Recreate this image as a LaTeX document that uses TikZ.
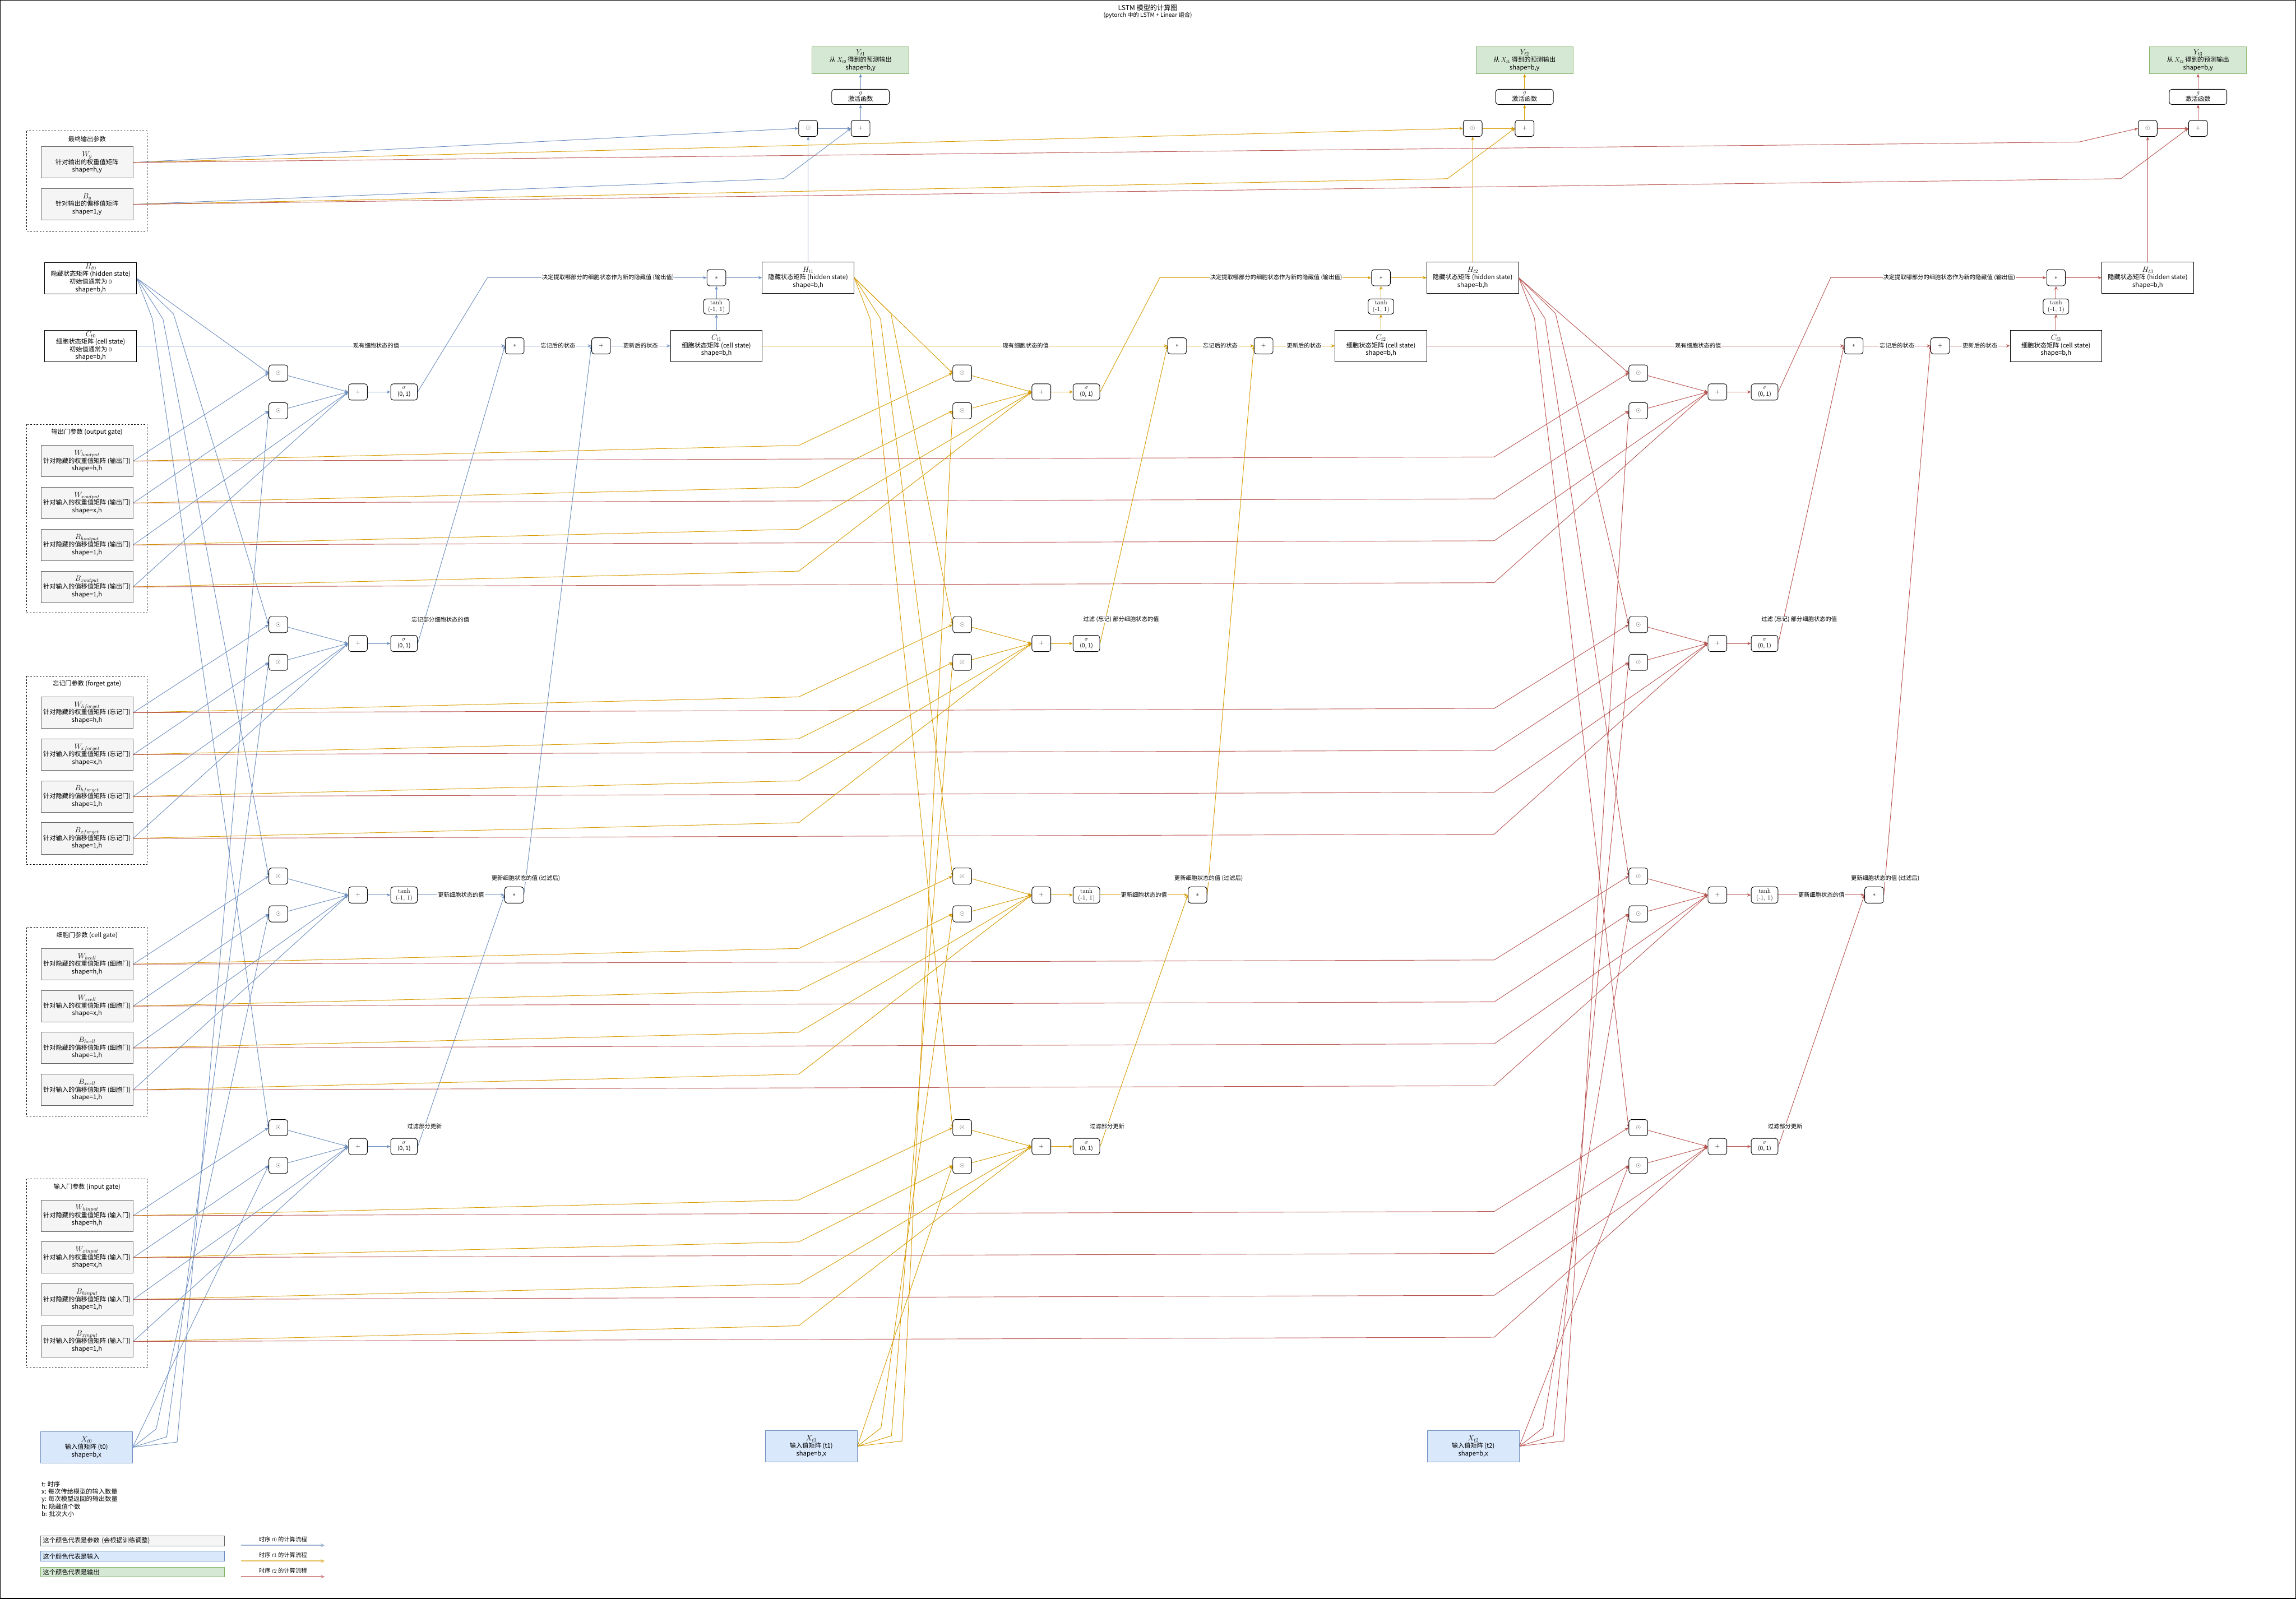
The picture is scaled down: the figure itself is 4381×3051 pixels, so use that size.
\documentclass[tikz,border=0pt]{standalone}
\usepackage{fontspec}
\newfontfamily\cjk{Noto Sans CJK SC}
\usetikzlibrary{arrows.meta,backgrounds}

\definecolor{tzero}{HTML}{6C8EBF}
\definecolor{tone}{HTML}{D79B00}
\definecolor{ttwo}{HTML}{B85450}
\definecolor{parafill}{HTML}{F5F5F5}
\definecolor{paraedge}{HTML}{666666}
\definecolor{infill}{HTML}{DAE8FC}
\definecolor{outfill}{HTML}{D5E8D4}
\definecolor{outedge}{HTML}{82B366}

\newcommand\mvar[1]{{\fontsize{14}{14}\selectfont$#1$}}

\tikzset{
  base/.style={font=\cjk\fontsize{12}{14.5}\selectfont, align=center, inner sep=1pt},
  para/.style={base, draw=paraedge, fill=parafill, line width=1pt, minimum width=175pt, minimum height=60pt},
  statebox/.style={base, draw=black, fill=white, line width=1pt, minimum width=175pt, minimum height=60pt},
  inbox/.style={base, draw=tzero, fill=infill, line width=1pt, minimum width=175pt, minimum height=60pt},
  outbox/.style={base, draw=outedge, fill=outfill, line width=1pt, minimum width=185pt, minimum height=51pt},
  group/.style={draw=black, line width=1pt, dash pattern=on 3pt off 3pt},
  op/.style={base, draw=black, fill=white, rounded corners=5pt, line width=1pt, minimum width=36pt, minimum height=31pt},
  act/.style={op, minimum width=51pt, font=\cjk\fontsize{11}{12.5}\selectfont},
  flow/.style={line width=1pt, -{Stealth[length=7pt,width=6pt]}},
  tag/.style={font=\cjk\fontsize{11}{12}\selectfont, fill=white, text=black, inner sep=1pt},
  legendbox/.style={base, align=left, line width=1pt, text width=341pt, inner xsep=5pt, minimum height=19pt},
}

\begin{document}
\begin{tikzpicture}[x=1pt,y=-1pt]
\useasboundingbox (0,0) rectangle (4381,3051);
\draw[line width=1.2pt] (0.6,0.6) rectangle (4380.4,3050.4);

% title
\node[base, font=\cjk\fontsize{11}{13}\selectfont] (title) at (2190,22) {{\fontsize{13}{15}\selectfont LSTM 模型的计算图}\\(pytorch 中的 LSTM + Linear 组合)};

% final output parameters
\draw[group] (51,250) rectangle (281,441);
\node[base] (gtfinal) at (166,265) {最终输出参数};
\node[para] (wy) at (166,310) {\mvar{W_{y}}\\针对输出的权重值矩阵\\shape=h,y};
\node[para] (by) at (166,390) {\mvar{B_{y}}\\针对输出的偏移值矩阵\\shape=1,y};

% initial states and inputs
\node[statebox] (h0) at (173,531) {\mvar{H_{t0}}\\隐藏状态矩阵 (hidden state)\\初始值通常为 $0$\\shape=b,h};
\node[statebox] (c0) at (173,660) {\mvar{C_{t0}}\\细胞状态矩阵 (cell state)\\初始值通常为 $0$\\shape=b,h};
\node[inbox] (x0) at (165,2762) {\mvar{X_{t0}}\\输入值矩阵 (t0)\\shape=b,x};
\node[inbox] (x1) at (1548,2760) {\mvar{X_{t1}}\\输入值矩阵 (t1)\\shape=b,x};
\node[inbox] (x2) at (2811,2760) {\mvar{X_{t2}}\\输入值矩阵 (t2)\\shape=b,x};

% gate parameters
\foreach \g/\gtop/\gname/\gate/\gsub in {
    o/810/{输出门参数 (output gate)}/输出门/output,
    f/1290/{忘记门参数 (forget gate)}/忘记门/forget,
    c/1770/{细胞门参数 (cell gate)}/细胞门/cell,
    i/2250/{输入门参数 (input gate)}/输入门/input}{
  \draw[group] (51,\gtop) rectangle (281,\gtop+360);
  \node[base] (gt\g) at (166,\gtop+15) {\gname};
  \node[para] (p\g1) at (166,\gtop+70) {\mvar{W_{h\gsub}}\\针对隐藏的权重值矩阵 (\gate)\\shape=h,h};
  \node[para] (p\g2) at (166,\gtop+150) {\mvar{W_{x\gsub}}\\针对输入的权重值矩阵 (\gate)\\shape=x,h};
  \node[para] (p\g3) at (166,\gtop+230) {\mvar{B_{h\gsub}}\\针对隐藏的偏移值矩阵 (\gate)\\shape=1,h};
  \node[para] (p\g4) at (166,\gtop+310) {\mvar{B_{x\gsub}}\\针对输入的偏移值矩阵 (\gate)\\shape=1,h};
}

% gate operations for each step
\foreach \st/\mx/\sx/\ax in {0/531/683/771, 1/1836/1987/2073, 2/3126/3277/3367}{
  \foreach \g/\gy in {o/748, f/1228, c/1708, i/2188}{
    \node[op] (mh\g\st) at (\mx,\gy-36) {$\odot$};
    \node[op] (mx\g\st) at (\mx,\gy+36) {$\odot$};
    \node[op] (sum\g\st) at (\sx,\gy) {$+$};
  }
  \node[act] (acto\st) at (\ax,748) {$\sigma$\\(0, 1)};
  \node[act] (actf\st) at (\ax,1228) {$\sigma$\\(0, 1)};
  \node[act, font=\rmfamily\fontsize{12}{13}\selectfont] (actc\st) at (\ax,1708) {tanh\\(-1, 1)};
  \node[act] (acti\st) at (\ax,2188) {$\sigma$\\(0, 1)};
}

% cell state, hidden state and output chain
\foreach \st/\nx/\fx/\ux/\cx/\cmx/\px/\bx in {0/1/982/1147/1367/981/1642/930,
    1/2/2246/2411/2635/2285/2909/2213, 2/3/3537/3702/3923/3576/4194/3493}{
  \node[op] (fm\st) at (\fx,660) {$*$};
  \node[op] (ua\st) at (\ux,660) {$+$};
  \node[statebox] (c\nx) at (\cx,660) {\mvar{C_{t\nx}}\\细胞状态矩阵 (cell state)\\shape=b,h};
  \node[op, minimum width=49pt, minimum height=29pt, font=\rmfamily\fontsize{12}{13}\selectfont] (th\st) at (\cx,585) {tanh\\(-1, 1)};
  \node[op] (om\st) at (\cx,530) {$*$};
  \node[statebox] (h\nx) at (\cx+175,530) {\mvar{H_{t\nx}}\\隐藏状态矩阵 (hidden state)\\shape=b,h};
  \node[op] (cm\st) at (\cmx,1708) {$*$};
  \node[op] (ot\st) at (\cx+175,245) {$\odot$};
  \node[op] (pt\st) at (\px,245) {$+$};
  \node[op, minimum width=110pt, minimum height=29pt, font=\cjk\fontsize{12}{13}\selectfont] (g\st) at (\px,185) {$g$\\激活函数};
  \node[outbox] (y\st) at (\px,115) {\mvar{Y_{t\nx}}\\从 $X_{t\st}$ 得到的预测输出\\shape=b,y};
  \coordinate (ob\st) at (\bx,530);
}

% notes and legend
\node[base, align=left, anchor=north west, font=\cjk\fontsize{12}{14}\selectfont] (notes) at (78,2826) {t: 时序\\x: 每次传给模型的输入数量\\y: 每次模型返回的输出数量\\h: 隐藏值个数\\b: 批次大小};
\node[legendbox, draw=paraedge, fill=parafill] (lg0) at (252.5,2940.5) {这个颜色代表是参数 (会根据训练调整)};
\node[legendbox, draw=tzero, fill=infill] (lg1) at (252.5,2970) {这个颜色代表是输入};
\node[legendbox, draw=outedge, fill=outfill] (lg2) at (252.5,3000) {这个颜色代表是输出};
\foreach \st/\col/\ly in {0/tzero/2949, 1/tone/2979, 2/ttwo/3009}{
  \coordinate (ls\st) at (460,\ly);
  \coordinate (le\st) at (620,\ly);
  \draw[line width=2pt, \col!65, -{Stealth[length=8pt,width=7pt]}] (ls\st) -- node[above=2pt, font=\cjk\fontsize{11}{12}\selectfont, text=black]{时序 $t\st$ 的计算流程} (le\st);
}

\begin{pgfonlayer}{background}
% inside the gates, hidden state and input into the gates
\foreach \st/\col in {0/tzero, 1/tone, 2/ttwo}{
  \foreach \g in {o,f,c,i}{
    \draw[flow,\col] (mh\g\st) -- (sum\g\st.west);
    \draw[flow,\col] (mx\g\st) -- (sum\g\st.west);
    \draw[flow,\col] (sum\g\st) -- (act\g\st);
  }
  \draw[flow,\col] (h\st.east) -- (mho\st.west);
  \draw[flow,\col] (h\st.east) -- ++(70,68) -- (mhf\st.west);
  \draw[flow,\col] (h\st.east) -- ++(50,78) -- (mhc\st.west);
  \draw[flow,\col] (h\st.east) -- ++(30,78) -- (mhi\st.west);
  \draw[flow,\col] (x\st.east) -- (mxi\st.west);
  \draw[flow,\col] (x\st.east) -- ++(45,-35) -- (mxc\st.west);
  \draw[flow,\col] (x\st.east) -- ++(65,-20) -- (mxf\st.west);
  \draw[flow,\col] (x\st.east) -- ++(85,-10) -- (mxo\st.west);
}

% parameters into the gates
\foreach \g in {o,f,c,i}{
  \foreach \kk/\tg in {1/mh, 2/mx, 3/sum, 4/sum}{
    \draw[flow,tzero] (p\g\kk.east) -- (\tg\g0.west);
    \draw[flow,tone] (p\g\kk.east) -- ++(1270,-30) -- (\tg\g1.west);
    \draw[flow,ttwo] (p\g\kk.east) -- ++(2597,-8) -- (\tg\g2.west);
  }
}

% state updates
\foreach \st/\nx/\col/\flab in {0/1/tzero/{忘记部分细胞状态的值},
    1/2/tone/{过滤 (忘记) 部分细胞状态的值}, 2/3/ttwo/{过滤 (忘记) 部分细胞状态的值}}{
  \draw[flow,\col] (c\st.east) -- node[tag,pos=0.65]{现有细胞状态的值} (fm\st.west);
  \draw[flow,\col] (actf\st.east) -- node[tag,pos=0.08,xshift=30pt]{\flab} (fm\st.west);
  \draw[flow,\col] (fm\st) -- node[tag]{忘记后的状态} (ua\st.west);
  \draw[flow,\col] (actc\st) -- node[tag]{更新细胞状态的值} (cm\st.west);
  \draw[flow,\col] (acti\st.east) -- node[tag,pos=0.08]{过滤部分更新} (cm\st.west);
  \draw[flow,\col] (cm\st.east) -- node[tag,pos=0.03]{更新细胞状态的值 (过滤后)} (ua\st.west);
  \draw[flow,\col] (ua\st) -- node[tag]{更新后的状态} (c\nx);
  \draw[flow,\col] (c\nx) -- (th\st);
  \draw[flow,\col] (th\st) -- (om\st);
  \draw[flow,\col] (acto\st.east) -- (ob\st) -- node[tag,pos=0.55]{决定提取哪部分的细胞状态作为新的隐藏值 (输出值)} (om\st.west);
  \draw[flow,\col] (om\st) -- (h\nx);
  \draw[flow,\col] (h\nx) -- (ot\st);
  \draw[flow,\col] (ot\st) -- (pt\st);
  \draw[flow,\col] (pt\st) -- (g\st);
  \draw[flow,\col] (g\st) -- (y\st);
}

% final output parameters
\draw[flow,tzero] (wy.east) -- (ot0.west);
\draw[flow,tzero] (by.east) -- (1495,341) -- (pt0.west);
\draw[flow,tone] (wy.east) -- (ot1.west);
\draw[flow,tone] (by.east) -- (2762,341) -- (pt1.west);
\draw[flow,ttwo] (wy.east) -- (3967,271) -- (ot2.west);
\draw[flow,ttwo] (by.east) -- (4047,341) -- (pt2.west);
\end{pgfonlayer}
\end{tikzpicture}
\end{document}
